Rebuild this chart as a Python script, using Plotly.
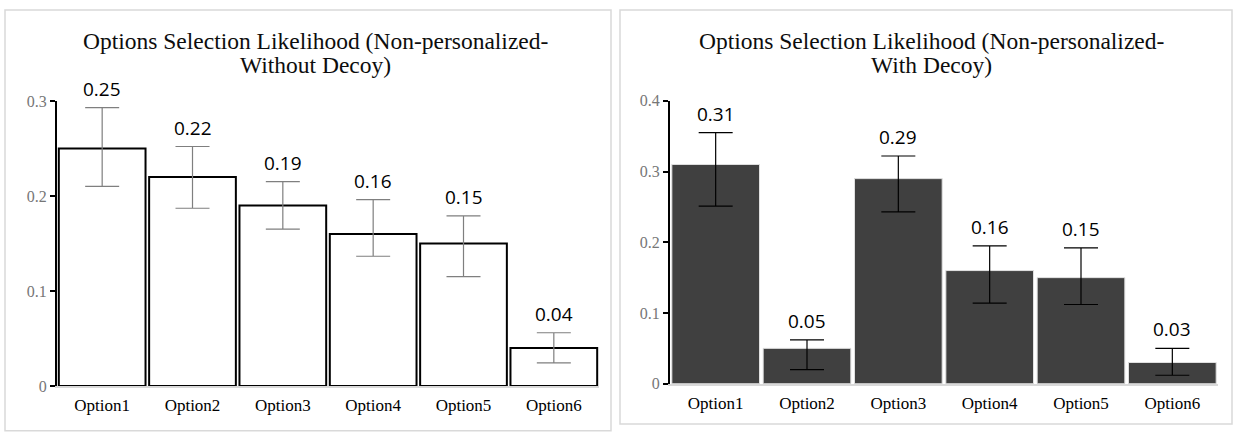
import plotly.graph_objects as go

categories = ["Option1", "Option2", "Option3", "Option4", "Option5", "Option6"]

# Left: Non-personalized, without decoy
left_values = [0.25, 0.22, 0.19, 0.16, 0.15, 0.04]
left_err_plus = [0.043, 0.032, 0.025, 0.036, 0.029, 0.016]
left_err_minus = [0.040, 0.033, 0.025, 0.0235, 0.035, 0.0157]

# Right: Non-personalized, with decoy
right_values = [0.31, 0.05, 0.29, 0.16, 0.15, 0.03]
right_err_plus = [0.045, 0.012, 0.032, 0.035, 0.042, 0.020]
right_err_minus = [0.059, 0.030, 0.047, 0.046, 0.038, 0.018]

left_title_lines = ["Options Selection Likelihood (Non-personalized-", "Without Decoy)"]
right_title_lines = ["Options Selection Likelihood (Non-personalized-", "With Decoy)"]

left_yticks = [0, 0.1, 0.2, 0.3]
right_yticks = [0, 0.1, 0.2, 0.3, 0.4]

W, H = 1238, 435


def px(x):
    return x / W


def py(y):
    return 1 - y / H


fig = go.Figure()

fig.add_trace(go.Bar(
    x=categories, y=left_values, xaxis="x", yaxis="y",
    marker=dict(color="white", line=dict(color="black", width=2)),
    error_y=dict(type="data", symmetric=False, array=left_err_plus,
                 arrayminus=left_err_minus, color="#7f7f7f", thickness=1.2, width=17),
    showlegend=False, hoverinfo="skip",
))
fig.add_trace(go.Bar(
    x=categories, y=right_values, xaxis="x2", yaxis="y2",
    marker=dict(color="#404040", line=dict(color="#e0e0e0", width=1)),
    error_y=dict(type="data", symmetric=False, array=right_err_plus,
                 arrayminus=right_err_minus, color="black", thickness=1.2, width=17),
    showlegend=False, hoverinfo="skip",
))

serif = "Liberation Serif"
sans = "Open Sans"

annotations = []
for c, v, e in zip(categories, left_values, left_err_plus):
    annotations.append(dict(x=c, y=v + e, xref="x", yref="y", text=f"{v:.2f}",
                            showarrow=False, yanchor="middle", yshift=19,
                            font=dict(family=sans, size=19, color="black")))
for c, v, e in zip(categories, right_values, right_err_plus):
    annotations.append(dict(x=c, y=v + e, xref="x2", yref="y2", text=f"{v:.2f}",
                            showarrow=False, yanchor="middle", yshift=19,
                            font=dict(family=sans, size=19, color="black")))

title_font = dict(family=serif, size=23.5, color="#0d0d0d")
for cx, lines in ((315, left_title_lines), (931, right_title_lines)):
    for cy, line in zip((34.5, 59.5), lines):
        annotations.append(dict(x=px(cx), y=py(cy), xref="paper", yref="paper", text=line,
                                showarrow=False, xanchor="center", yanchor="middle",
                                font=title_font))

shapes = [
    dict(type="rect", xref="paper", yref="paper", x0=px(5), x1=px(611), y0=py(440), y1=py(2),
         line=dict(color="#d9d9d9", width=1.5), fillcolor="rgba(0,0,0,0)", layer="below"),
    dict(type="rect", xref="paper", yref="paper", x0=px(620), x1=px(1232), y0=py(433), y1=py(2),
         line=dict(color="#d9d9d9", width=1.5), fillcolor="rgba(0,0,0,0)", layer="below"),
]

xaxis_common = dict(showgrid=False, zeroline=False, showline=True, linecolor="#d9d9d9",
                    linewidth=1.5, ticks="", ticklabelstandoff=3,
                    tickfont=dict(family=serif, size=17, color="black"), fixedrange=True)
yaxis_common = dict(showgrid=False, zeroline=False, showline=True, linecolor="black",
                    linewidth=2, ticks="outside", ticklen=5, tickcolor="black", tickwidth=2,
                    tickfont=dict(family=serif, size=16, color="#767676"), fixedrange=True)

fig.update_layout(
    width=W, height=H,
    margin=dict(l=0, r=0, t=0, b=0),
    paper_bgcolor="white", plot_bgcolor="white",
    bargap=0.04,
    xaxis=dict(domain=[px(57), px(599)], anchor="y", **xaxis_common),
    yaxis=dict(domain=[py(393.3), py(96.7)], anchor="x", range=[0, 0.3],
               tickvals=left_yticks, ticktext=[f"{t:g}" for t in left_yticks], **yaxis_common),
    xaxis2=dict(domain=[px(670), px(1218)], anchor="y2", **xaxis_common),
    yaxis2=dict(domain=[py(391), py(96.6)], anchor="x2", range=[0, 0.4],
                tickvals=right_yticks, ticktext=[f"{t:g}" for t in right_yticks], **yaxis_common),
    annotations=annotations,
    shapes=shapes,
)

fig.write_html(
    "out.html",
    config={"displayModeBar": False},
    post_script="document.body.style.margin='0';document.body.style.padding='0';",
)
